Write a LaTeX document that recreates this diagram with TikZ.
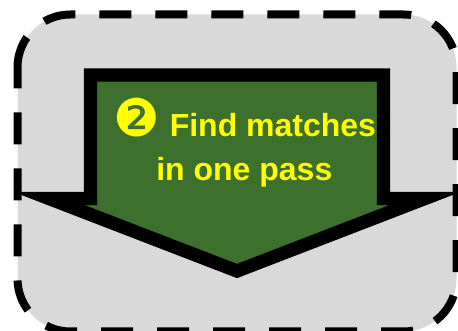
\documentclass[tikz,border=0pt]{standalone}
\usepackage{fontspec}
\usepackage{xcolor}
\setmainfont{Liberation Sans}
\newfontfamily\dingfont{DejaVu Sans}
\usetikzlibrary{arrows.meta,positioning,calc}
\definecolor{panelgrey}{RGB}{217,217,217}
\definecolor{arrowgreen}{RGB}{61,112,45}
\definecolor{stepyellow}{RGB}{255,255,0}
\tikzset{
  panel/.style={draw=black, fill=panelgrey, line width=6pt, dash pattern=on 24pt off 18pt},
  passarrow/.style={draw=black, fill=arrowgreen, line width=10pt, miter limit=10},
  steptext/.style={text=stepyellow, font=\fontsize{24}{28}\selectfont\bfseries, inner sep=0pt, anchor=base west},
  stepnum/.style={text=stepyellow, font=\dingfont\fontsize{39}{39}\selectfont, inner sep=0pt},
}
\begin{document}
\begin{tikzpicture}[x=0.75pt, y=-0.75pt]
  \useasboundingbox (0,0) rectangle (458,331);
  \clip (0,0) rectangle (458,331);
  \draw[panel] (17.5,67.5) .. controls (17.5,38.2) and (41.2,14.5) .. (70.5,14.5) -- (403.5,14.5)
    .. controls (432.8,14.5) and (456.5,38.2) .. (456.5,67.5) -- (456.5,278.5)
    .. controls (456.5,307.8) and (432.8,331.5) .. (403.5,331.5) -- (70.5,331.5)
    .. controls (41.2,331.5) and (17.5,307.8) .. (17.5,278.5) -- cycle;
  \draw[passarrow] (90.5,75) -- (383.5,75) -- (383.5,198.5) -- (425,198.5) -- (237,271) -- (49,198.5) -- (90.5,198.5) -- cycle;
  \node[stepnum] (num) at (136.5,117.5) {❷};
  \node[steptext] (find) at (169.5,137) {Find matches};
  \node[steptext] (pass) at (156,180.5) {in one pass};
\end{tikzpicture}
\end{document}
